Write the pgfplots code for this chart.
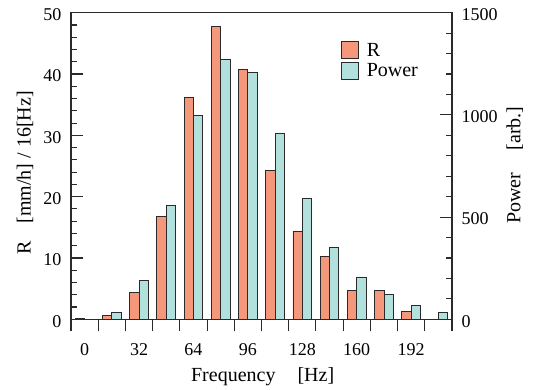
\documentclass[border=0pt]{standalone}
\usepackage{fontspec}
\setmainfont{Liberation Serif}
\usepackage{pgfplots}
\usepackage{pgfplotstable}
\pgfplotsset{compat=1.18}
\definecolor{rcol}{HTML}{F4977A}
\definecolor{pcol}{HTML}{B2E0DC}
\definecolor{edge}{HTML}{2A2A2A}

\pgfplotstableread{
f R P
0 0.2 0
16 0.6 33
32 4.4 191
48 16.8 557
64 36.2 996
80 47.7 1271
96 40.8 1206
112 24.3 908
128 14.4 593
144 10.2 352
160 4.7 207
176 4.7 121
192 1.3 67
208 0 34
}\data

\pgfplotsset{
  base/.style={
    width=381pt, height=306.6pt, scale only axis,
    at={(0pt,0pt)}, anchor=south west,
    xmin=-8, xmax=216,
    /pgf/number format/assume math mode=true,
    /pgf/number format/1000 sep={},
    tick label style={font=\fontsize{18}{18}\selectfont},
    label style={font=\fontsize{20}{20}\selectfont},
    axis line style={line width=1.2pt, draw=edge},
    tick style={line width=1.1pt, draw=edge},
  },
}

\begin{document}
\begin{tikzpicture}
\useasboundingbox (-71pt,-69.7pt) rectangle (465pt,319.3pt);

% frame + x ticks
\begin{axis}[base,
  ymin=0, ymax=50, ytick=\empty,
  xtick={0,32,...,192},
  minor xtick={-8,8,...,216},
  major x tick style={draw=none},
  tick align=outside,
  major tick length=12pt, minor tick length=12pt,
  xtick pos=bottom,
  xticklabel shift=9pt,
  xlabel={Frequency\hspace{1.1em}[Hz]},
  every axis x label/.append style={at={(axis description cs:0.503,-0.188)}, anchor=center},
]
\end{axis}

% R on left axis
\begin{axis}[base,
  ymin=0, ymax=50,
  axis y line*=left, hide x axis,
  ytick={0,10,...,50}, minor y tick num=4,
  tick align=inside,
  major tick length=12pt, minor tick length=6pt,
  yticklabel shift=6pt,
  yticklabel style={yshift=-2pt},
  ylabel={R\hspace{0.9em}[mm/h] / 16[Hz]},
  every axis y label/.append style={at={(axis description cs:-0.1207,0.477)}, anchor=center},
]
\addplot[ybar, bar width=5.5, bar shift=0pt, fill=rcol, draw=edge, line width=0.9pt]
  table[x expr=\thisrow{f}-2.75, y=R]{\data};
\end{axis}

% Power on right axis
\begin{axis}[base,
  ymin=0, ymax=1500,
  axis y line*=right, hide x axis,
  ytick={0,500,...,1500}, minor y tick num=4,
  tick align=inside,
  major tick length=12pt, minor tick length=6pt,
  yticklabel shift=6pt,
  yticklabel style={yshift=-2pt},
  ylabel={Power\hspace{1.1em}[arb.]},
  every axis y label/.append style={at={(axis description cs:1.165,0.503)}, anchor=center},
  legend style={draw=none, fill=none, at={(axis description cs:0.7,0.915)}, anchor=north west,
    font=\fontsize{20}{20}\selectfont, row sep=2pt,
    /tikz/every odd column/.append style={column sep=6pt}},
  legend image code/.code={\draw[#1,/tikz/.cd,line width=0.9pt] (0pt,-8.5pt) rectangle (17pt,8.5pt);},
  legend cell align=left,
]
\addlegendimage{fill=rcol, draw=edge}
\addlegendentry{R}
\addplot[ybar, bar width=5.5, bar shift=0pt, fill=pcol, draw=edge, line width=0.9pt]
  table[x expr=\thisrow{f}+2.75, y=P]{\data};
\addlegendentry{Power}
\end{axis}
\end{tikzpicture}
\end{document}
